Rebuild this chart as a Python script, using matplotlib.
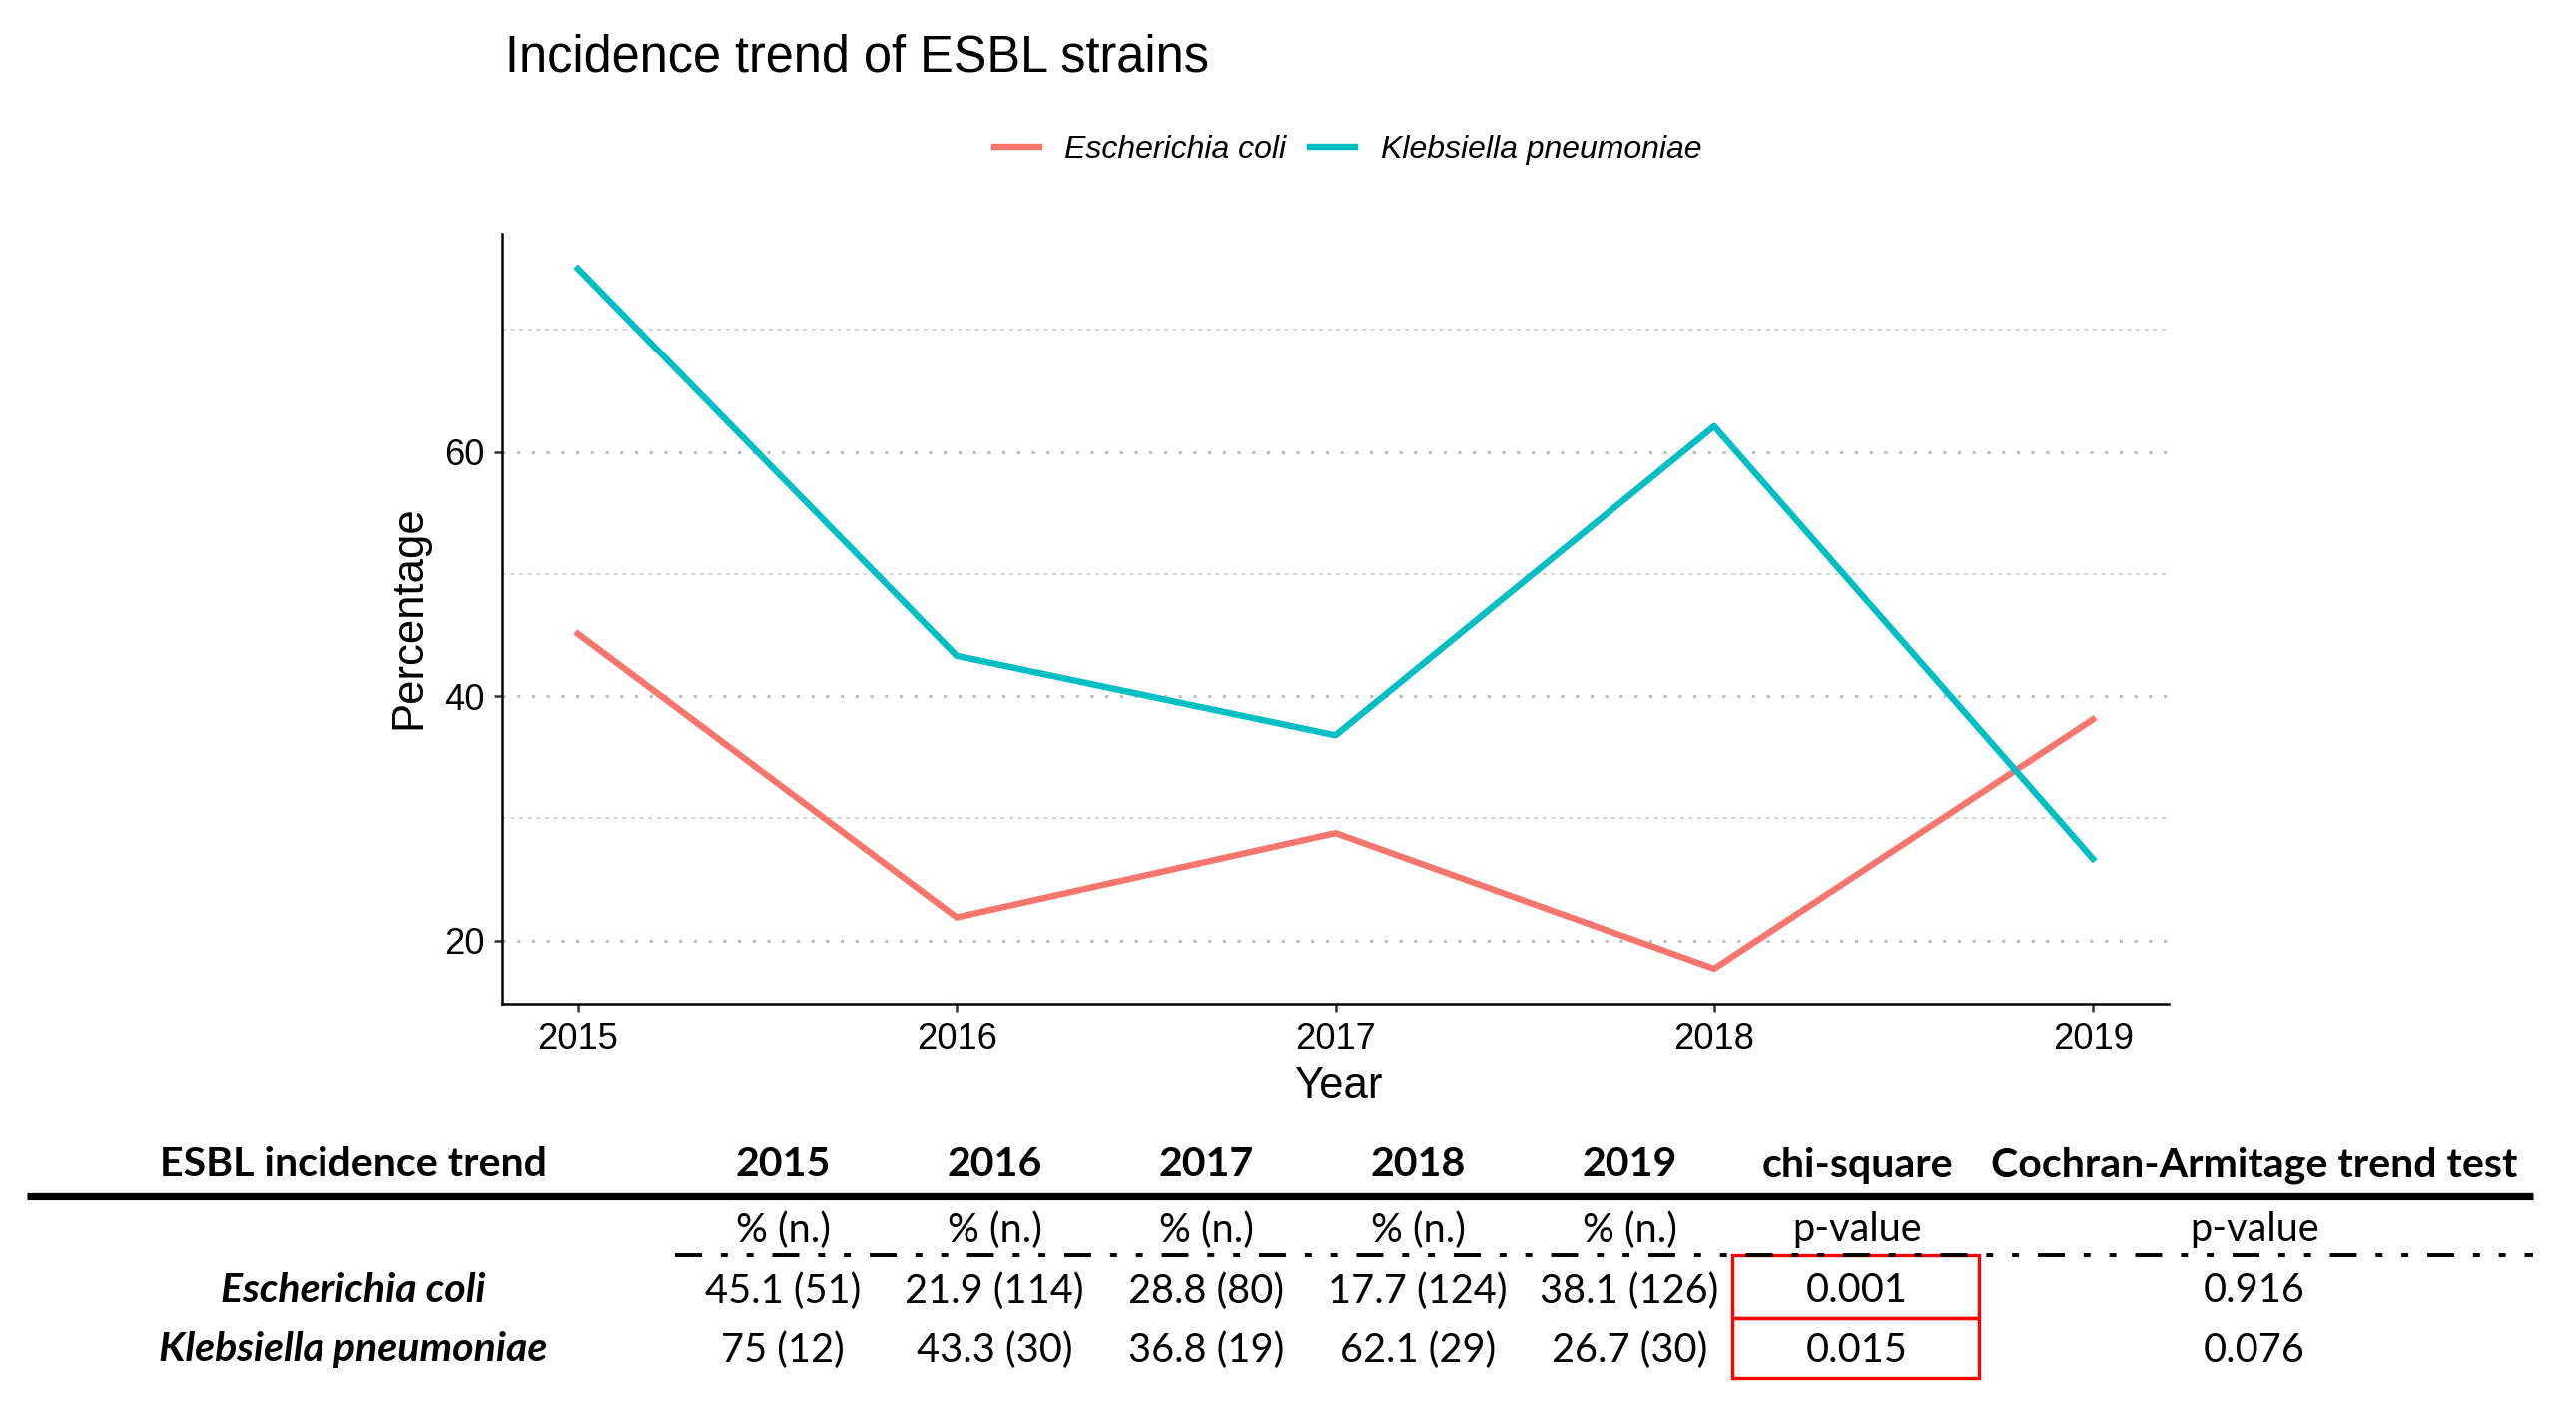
import matplotlib
matplotlib.use("Agg")
import matplotlib.pyplot as plt
from matplotlib.patches import Rectangle

plt.rcParams['lines.scale_dashes'] = False

# data
years = [2015, 2016, 2017, 2018, 2019]
ecoli_pct = [45.1, 21.9, 28.8, 17.7, 38.1]
kpneu_pct = [75, 43.3, 36.8, 62.1, 26.7]
ecoli_n = [51, 114, 80, 124, 126]
kpneu_n = [12, 30, 19, 29, 30]
chi_p = ["0.001", "0.015"]
ca_p = ["0.916", "0.076"]
species = ["Escherichia coli", "Klebsiella pneumoniae"]
colors = ["#F8766D", "#00BFC4"]

W, H = 2580, 1408
DPI = 200
fig = plt.figure(figsize=(W / DPI, H / DPI), dpi=DPI)

chart_font = ['Liberation Sans', 'DejaVu Sans']
table_font = ['Lato', 'DejaVu Sans']

# chart panel
ax = fig.add_axes([503 / W, 1 - 1005 / H, (2172 - 503) / W, (1005 - 234) / H])
for pct, c, name in zip([ecoli_pct, kpneu_pct], colors, species):
    ax.plot(years, pct, color=c, lw=2.3, label=name, solid_joinstyle='round')

lo = min(ecoli_pct + kpneu_pct)
hi = max(ecoli_pct + kpneu_pct)
pad = (hi - lo) * 0.05
ax.set_ylim(lo - pad, hi + pad)
ax.set_xlim(years[0] - 0.2, years[-1] + 0.2)
ax.set_xticks(years)
ax.set_yticks([20, 40, 60])
ax.set_yticks([30, 50, 70], minor=True)
ax.grid(axis='y', which='major', color='#BDBDBD', lw=1.1, linestyle=(0, (1.1, 4.2)))
ax.grid(axis='y', which='minor', color='#CCCCCC', lw=0.6, linestyle=(0, (1.4, 1.7)))
ax.set_axisbelow(True)
for s in ['top', 'right']:
    ax.spines[s].set_visible(False)
for s in ['left', 'bottom']:
    ax.spines[s].set_linewidth(0.9)
ax.tick_params(axis='both', which='major', length=2.9, width=0.9, color='#333333',
               labelsize=13.1, pad=3.5)
ax.tick_params(axis='y', which='minor', length=0)
for lab in ax.get_xticklabels() + ax.get_yticklabels():
    lab.set_fontfamily(chart_font)

fig.text(1340 / W, 1 - 1088 / H, "Year", ha='center', va='center', fontsize=15.7,
         family=chart_font)
fig.text(410 / W, 1 - 618 / H, "Percentage", ha='center', va='center', rotation=90,
         fontsize=15.7, family=chart_font)
fig.text(506 / W, 1 - 58 / H, "Incidence trend of ESBL strains", ha='left', va='center',
         fontsize=18.2, family=chart_font)

leg = fig.legend(loc='center', bbox_to_anchor=(1350 / W, 1 - 150 / H), ncol=2, frameon=False,
                 prop={'family': chart_font, 'style': 'italic', 'size': 11.5},
                 handlelength=1.4, handletextpad=0.8, columnspacing=0.75)

# table overlay in pixel coordinates
tab = fig.add_axes([0, 0, 1, 1])
tab.set_xlim(0, W)
tab.set_ylim(H, 0)
tab.axis('off')

col_x = [784, 996, 1208, 1420, 1632]
chi_x = 1860
ca_x = 2258
name_x = 354
row_head, row_sub, row1, row2 = 1167, 1232, 1293, 1352
fs_head = 14.8
fs_body = 14.3

def t(x, y, s, size=fs_body, **kw):
    tab.text(x, y, s, ha='center', va='center', fontsize=size, family=table_font, **kw)

t(name_x, row_head, "ESBL incidence trend", size=fs_head, weight='bold')
for x, yr in zip(col_x, years):
    t(x, row_head, str(yr), size=fs_head, weight='bold')
    t(x, row_sub, "% (n.)")
t(chi_x, row_head, "chi-square", size=fs_head, weight='bold')
t(ca_x, row_head, "Cochran-Armitage trend test", size=fs_head, weight='bold')
t(chi_x, row_sub, "p-value")
t(ca_x, row_sub, "p-value")

for i, (name, pcts, ns) in enumerate(zip(species, [ecoli_pct, kpneu_pct], [ecoli_n, kpneu_n])):
    y = [row1, row2][i]
    t(name_x, y, name, size=fs_head, weight='bold', style='italic')
    for x, p, n in zip(col_x, pcts, ns):
        t(x, y, f"{p:g} ({n})")
    t(chi_x, y, chi_p[i])
    t(ca_x, y, ca_p[i])

tab.plot([27, 2537], [1198, 1198], color='black', lw=2.6, solid_capstyle='butt')
tab.plot([676, 2537], [1257, 1257], color='black', lw=1.4,
         linestyle=(0, (9.7, 6.8, 2.5, 6.8, 2.5, 6.8)))

for y0, y1 in [(1257, 1320), (1320, 1380)]:
    tab.add_patch(Rectangle((1735, y0), 1982 - 1735, y1 - y0, fill=False,
                            edgecolor='#FF0000', lw=1.2))

fig.savefig("out.png", dpi=DPI, facecolor='white')
